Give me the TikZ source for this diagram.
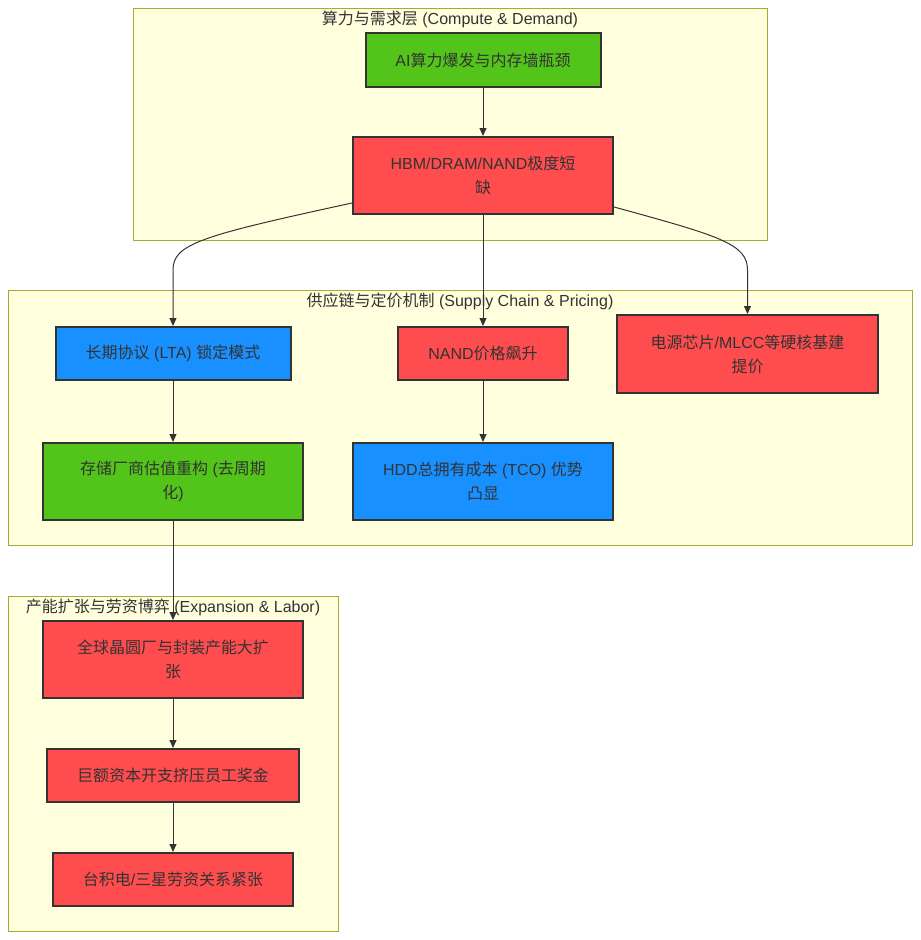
\documentclass[tikz,border=0pt]{standalone}
\usepackage{fontspec}
\setmainfont{Liberation Sans}
\newfontfamily\cjk{Noto Sans CJK SC}
\newcommand\zh[1]{{\cjk #1}}
\usetikzlibrary{arrows.meta}
\definecolor{txt}{HTML}{333333}
\definecolor{clfill}{HTML}{FFFFDE}
\definecolor{clline}{HTML}{AAAA33}
\definecolor{cgreen}{HTML}{52C41A}
\definecolor{cred}{HTML}{FF4D4F}
\definecolor{cblue}{HTML}{1890FF}
\tikzset{
  cluster/.style={draw=clline, fill=clfill, line width=1pt},
  cltitle/.style={text=txt, font=\fontsize{16}{24}\selectfont, inner sep=0pt},
  box/.style={draw=txt, line width=2pt, text=txt, align=center, inner sep=0pt,
    font=\fontsize{16}{24}\selectfont},
  gbox/.style={box, fill=cgreen},
  rbox/.style={box, fill=cred},
  bbox/.style={box, fill=cblue},
  arr/.style={draw=txt, line width=1pt, -{Triangle[length=8pt,width=7pt]}}
}
\begin{document}
\begin{tikzpicture}[x=1pt,y=-1pt]
\useasboundingbox (0,0) rectangle (921,940);
% clusters
\draw[cluster] (133,8) rectangle (767,240);
\draw[cluster] (8,290) rectangle (912,545);
\draw[cluster] (8,596) rectangle (338,931);
\node[cltitle] (t1) at (450,19) {\zh{算力与需求层} (Compute \& Demand)};
\node[cltitle] (t2) at (460,301) {\zh{供应链与定价机制} (Supply Chain \& Pricing)};
\node[cltitle] (t3) at (173,607) {\zh{产能扩张与劳资博弈} (Expansion \& Labor)};
% nodes
\node[gbox, minimum width=235pt, minimum height=54pt] (A) at (483,60) {AI\zh{算力爆发与内存墙瓶颈}};
\node[rbox, minimum width=260pt, minimum height=77pt] (B) at (483,175.5) {HBM/DRAM/NAND\zh{极度短}\\\zh{缺}};
\node[bbox, minimum width=235pt, minimum height=53pt] (C) at (173,353.5) {\zh{长期协议} (LTA) \zh{锁定模式}};
\node[rbox, minimum width=170pt, minimum height=53pt] (D) at (483,353.5) {NAND\zh{价格飙升}};
\node[rbox, minimum width=261pt, minimum height=78pt] (E) at (747.5,354) {\zh{电源芯片}/MLCC\zh{等硬核基建}\\\zh{提价}};
\node[gbox, minimum width=260pt, minimum height=77pt] (F) at (173,481.5) {\zh{存储厂商估值重构} (\zh{去周期}\\\zh{化})};
\node[bbox, minimum width=260pt, minimum height=77pt] (G) at (483,481.5) {HDD\zh{总拥有成本} (TCO) \zh{优势}\\\zh{凸显}};
\node[rbox, minimum width=260pt, minimum height=77pt] (H) at (173,659.5) {\zh{全球晶圆厂与封装产能大扩}\\\zh{张}};
\node[rbox, minimum width=252pt, minimum height=53pt] (I) at (173,775.5) {\zh{巨额资本开支挤压员工奖金}};
\node[rbox, minimum width=240pt, minimum height=53pt] (J) at (173,879.5) {\zh{台积电}/\zh{三星劳资关系紧张}};
% edges
\draw[arr] (A) -- (B);
\draw[arr] ([yshift=-27.5pt]B.west) .. controls (200,236) and (173,244) .. (173,270) -- (C.north);
\draw[arr] (B) -- (D);
\draw[arr] ([yshift=-31.5pt]B.east) .. controls (720,236) and (747.5,244) .. (747.5,270) -- (E.north);
\draw[arr] (C) -- (F);
\draw[arr] (D) -- (G);
\draw[arr] (F) -- (H);
\draw[arr] (H) -- (I);
\draw[arr] (I) -- (J);
\end{tikzpicture}
\end{document}
